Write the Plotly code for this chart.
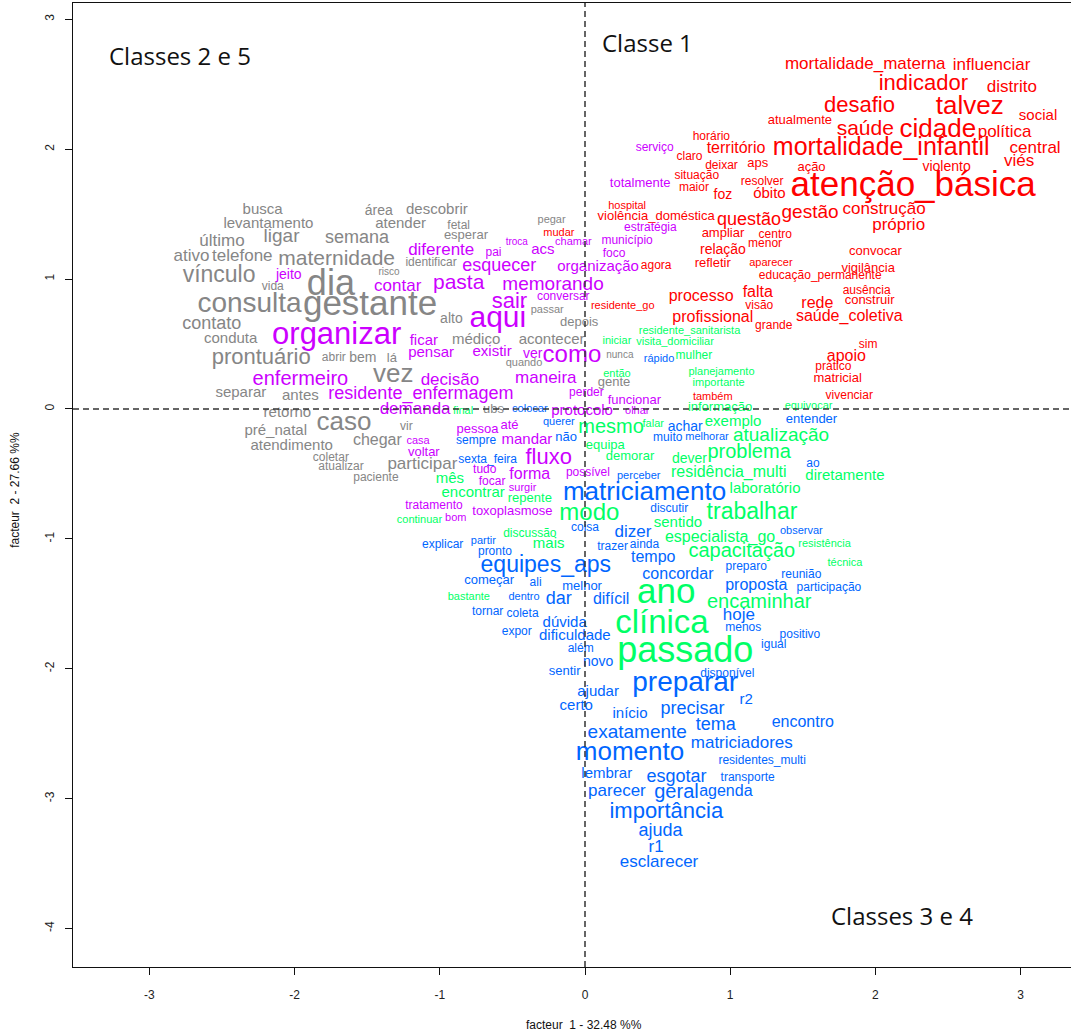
import plotly.graph_objects as go

# (word, facteur 1, facteur 2, weight)
class1 = [
    ("mortalidade_materna", 1.93, 2.65, 17), ("influenciar", 2.80, 2.64, 17),
    ("indicador", 2.33, 2.50, 22), ("distrito", 2.94, 2.47, 17),
    ("desafio", 1.89, 2.33, 22), ("talvez", 2.65, 2.32, 26),
    ("atualmente", 1.48, 2.22, 13), ("social", 3.12, 2.25, 15),
    ("saúde", 1.93, 2.15, 21), ("cidade", 2.43, 2.14, 26),
    ("política", 2.89, 2.13, 17), ("horário", 0.87, 2.09, 12),
    ("mortalidade_infantil", 2.04, 2.00, 25), ("central", 3.10, 2.00, 17),
    ("território", 1.04, 2.00, 16), ("claro", 0.72, 1.94, 12),
    ("viés", 2.99, 1.90, 17), ("aps", 1.19, 1.89, 13),
    ("deixar", 0.94, 1.87, 12), ("ação", 1.56, 1.86, 13),
    ("violento", 2.49, 1.86, 14), ("situação", 0.77, 1.79, 12),
    ("resolver", 1.22, 1.75, 12), ("maior", 0.75, 1.70, 12),
    ("atenção_básica", 2.26, 1.71, 35), ("foz", 0.95, 1.64, 14),
    ("óbito", 1.27, 1.65, 15), ("hospital", 0.29, 1.56, 11),
    ("violência_doméstica", 0.49, 1.48, 13), ("questão", 1.13, 1.45, 18),
    ("gestão", 1.55, 1.51, 19), ("construção", 2.06, 1.53, 17),
    ("próprio", 2.16, 1.41, 17), ("ampliar", 0.95, 1.35, 13),
    ("centro", 1.31, 1.34, 12), ("menor", 1.24, 1.27, 12),
    ("relação", 0.95, 1.22, 14), ("refletir", 0.88, 1.12, 13),
    ("aparecer", 1.28, 1.12, 11), ("convocar", 2.00, 1.21, 13),
    ("vigilância", 1.95, 1.08, 13), ("educação_permanente", 1.62, 1.02, 12),
    ("ausência", 1.94, 0.91, 12), ("construir", 1.96, 0.83, 13),
    ("processo", 0.80, 0.86, 16), ("falta", 1.19, 0.89, 16),
    ("visão", 1.20, 0.79, 12), ("rede", 1.60, 0.81, 16),
    ("saúde_coletiva", 1.82, 0.71, 16), ("residente_go", 0.26, 0.79, 11),
    ("profissional", 0.88, 0.70, 16), ("grande", 1.30, 0.64, 12),
    ("sim", 1.95, 0.49, 12), ("apoio", 1.80, 0.40, 16),
    ("prático", 1.71, 0.32, 12), ("matricial", 1.74, 0.23, 13),
    ("vivenciar", 1.82, 0.10, 12), ("também", 0.88, 0.09, 11),
    ("mudar", -0.18, 1.35, 11), ("agora", 0.49, 1.10, 12),
]

class2 = [
    ("busca", -2.22, 1.53, 15), ("área", -1.42, 1.52, 14),
    ("descobrir", -1.02, 1.53, 15), ("levantamento", -2.18, 1.42, 15),
    ("atender", -1.27, 1.42, 15), ("fetal", -0.87, 1.41, 12),
    ("esperar", -0.82, 1.33, 13), ("último", -2.50, 1.29, 17),
    ("ligar", -2.09, 1.32, 19), ("semana", -1.57, 1.31, 18),
    ("ativo", -2.71, 1.17, 17), ("telefone", -2.36, 1.17, 17),
    ("maternidade", -1.71, 1.15, 21), ("identificar", -1.06, 1.12, 12),
    ("risco", -1.35, 1.05, 10), ("vínculo", -2.52, 1.02, 23),
    ("dia", -1.75, 0.95, 36), ("vida", -2.15, 0.94, 12),
    ("consulta", -2.31, 0.80, 28), ("gestante", -1.48, 0.79, 35),
    ("contato", -2.57, 0.65, 18), ("conduta", -2.44, 0.54, 15),
    ("alto", -0.92, 0.69, 14), ("prontuário", -2.23, 0.39, 22),
    ("abrir", -1.73, 0.39, 12), ("bem", -1.53, 0.39, 14),
    ("lá", -1.33, 0.39, 13), ("médico", -0.75, 0.53, 15),
    ("acontecer", -0.23, 0.53, 15), ("quando", -0.42, 0.35, 11),
    ("vez", -1.32, 0.26, 26), ("separar", -2.37, 0.12, 15),
    ("antes", -1.96, 0.10, 15), ("gente", 0.20, 0.20, 13),
    ("nunca", 0.24, 0.41, 10), ("depois", -0.04, 0.66, 13),
    ("passar", -0.26, 0.76, 11), ("pegar", -0.23, 1.45, 11),
    ("retorno", -2.05, -0.03, 15), ("caso", -1.66, -0.11, 26),
    ("vir", -1.23, -0.14, 12), ("pré_natal", -2.13, -0.17, 15),
    ("atendimento", -2.02, -0.29, 15), ("chegar", -1.43, -0.25, 16),
    ("coletar", -1.75, -0.38, 12), ("atualizar", -1.68, -0.45, 12),
    ("participar", -1.12, -0.43, 17), ("paciente", -1.44, -0.53, 12),
    ("ubs", -0.63, -0.01, 13),
]

class3 = [
    ("residente_sanitarista", 0.72, 0.60, 11), ("iniciar", 0.22, 0.52, 11),
    ("visita_domiciliar", 0.62, 0.51, 11), ("mulher", 0.75, 0.41, 12),
    ("então", 0.22, 0.27, 11), ("planejamento", 0.94, 0.28, 11),
    ("importante", 0.92, 0.20, 11), ("informação", 0.93, 0.01, 13),
    ("equivocar", 1.54, 0.02, 11), ("final", -0.84, -0.02, 11),
    ("mesmo", 0.18, -0.15, 20), ("falar", 0.47, -0.12, 11),
    ("exemplo", 1.02, -0.10, 15), ("equipa", 0.14, -0.28, 13),
    ("atualização", 1.35, -0.21, 19), ("demorar", 0.31, -0.37, 13),
    ("dever", 0.72, -0.39, 14), ("problema", 1.13, -0.34, 20),
    ("residência_multi", 0.99, -0.49, 16), ("diretamente", 1.79, -0.52, 15),
    ("laboratório", 1.24, -0.62, 15), ("mês", -0.93, -0.54, 15),
    ("encontrar", -0.77, -0.65, 15), ("repente", -0.38, -0.69, 13),
    ("continuar", -1.14, -0.86, 11), ("modo", 0.03, -0.81, 24),
    ("trabalhar", 1.15, -0.80, 23), ("sentido", 0.64, -0.88, 15),
    ("especialista_go", 0.93, -0.99, 16), ("resistência", 1.65, -1.04, 11),
    ("capacitação", 1.08, -1.10, 20), ("técnica", 1.79, -1.19, 11),
    ("discussão", -0.38, -0.96, 12), ("mais", -0.25, -1.04, 15),
    ("bastante", -0.80, -1.45, 11), ("ano", 0.56, -1.43, 35),
    ("encaminhar", 1.20, -1.49, 20), ("clínica", 0.53, -1.66, 33),
    ("passado", 0.69, -1.88, 36),
]

class4 = [
    ("querer", -0.18, -0.10, 11), ("colocar", -0.38, 0.00, 11),
    ("sempre", -0.75, -0.25, 12), ("não", -0.13, -0.22, 13),
    ("sexta_feira", -0.67, -0.39, 12), ("muito", 0.57, -0.22, 12),
    ("melhorar", 0.84, -0.22, 11), ("achar", 0.69, -0.14, 14),
    ("entender", 1.56, -0.08, 13), ("ao", 1.57, -0.42, 12),
    ("perceber", 0.37, -0.52, 11), ("matriciamento", 0.41, -0.65, 26),
    ("discutir", 0.58, -0.77, 12), ("coisa", 0.00, -0.92, 12),
    ("dizer", 0.33, -0.95, 17), ("observar", 1.49, -0.94, 11),
    ("explicar", -0.98, -1.05, 12), ("partir", -0.70, -1.02, 11),
    ("pronto", -0.62, -1.10, 12), ("trazer", 0.19, -1.06, 12),
    ("ainda", 0.41, -1.05, 12), ("tempo", 0.47, -1.15, 16),
    ("preparo", 1.11, -1.22, 12), ("reunião", 1.49, -1.28, 12),
    ("participação", 1.68, -1.38, 12), ("equipes_aps", -0.27, -1.21, 23),
    ("concordar", 0.64, -1.28, 16), ("proposta", 1.18, -1.36, 16),
    ("começar", -0.66, -1.32, 13), ("ali", -0.34, -1.34, 12),
    ("melhor", -0.02, -1.37, 13), ("dentro", -0.42, -1.45, 11),
    ("dar", -0.18, -1.47, 18), ("difícil", 0.18, -1.47, 16),
    ("tornar", -0.67, -1.56, 12), ("coleta", -0.43, -1.58, 12),
    ("hoje", 1.06, -1.59, 17), ("dúvida", -0.14, -1.65, 15),
    ("expor", -0.47, -1.72, 12), ("dificuldade", -0.07, -1.75, 15),
    ("menos", 1.09, -1.69, 12), ("positivo", 1.48, -1.74, 12),
    ("igual", 1.30, -1.82, 12), ("além", -0.03, -1.85, 12),
    ("novo", 0.09, -1.95, 14), ("sentir", -0.14, -2.02, 13),
    ("disponível", 0.98, -2.04, 12), ("preparar", 0.69, -2.12, 28),
    ("ajudar", 0.09, -2.18, 15), ("r2", 1.11, -2.24, 15),
    ("certo", -0.06, -2.29, 15), ("início", 0.31, -2.35, 15),
    ("precisar", 0.74, -2.31, 18), ("tema", 0.90, -2.44, 18),
    ("encontro", 1.50, -2.42, 16), ("exatamente", 0.36, -2.50, 19),
    ("matriciadores", 1.08, -2.58, 17), ("momento", 0.31, -2.65, 26),
    ("residentes_multi", 1.22, -2.71, 12), ("lembrar", 0.15, -2.81, 15),
    ("esgotar", 0.63, -2.84, 18), ("transporte", 1.12, -2.84, 12),
    ("parecer", 0.22, -2.95, 17), ("geral", 0.63, -2.96, 20),
    ("agenda", 0.97, -2.95, 16), ("importância", 0.56, -3.11, 22),
    ("ajuda", 0.52, -3.25, 18), ("r1", 0.49, -3.38, 17),
    ("esclarecer", 0.51, -3.49, 17), ("rápido", 0.51, 0.38, 11),
]

class5 = [
    ("diferente", -0.99, 1.22, 17), ("pai", -0.63, 1.20, 12),
    ("troca", -0.47, 1.28, 10), ("acs", -0.29, 1.22, 15),
    ("chamar", -0.08, 1.28, 11), ("município", 0.29, 1.29, 12),
    ("estratégia", 0.45, 1.39, 12), ("foco", 0.20, 1.19, 12),
    ("organização", 0.09, 1.09, 15), ("jeito", -2.04, 1.03, 14),
    ("contar", -1.29, 0.94, 17), ("esquecer", -0.59, 1.10, 18),
    ("pasta", -0.87, 0.96, 21), ("memorando", -0.22, 0.95, 19),
    ("conversar", -0.15, 0.86, 12), ("sair", -0.52, 0.82, 22),
    ("organizar", -1.71, 0.56, 31), ("aqui", -0.60, 0.69, 30),
    ("ficar", -1.11, 0.52, 15), ("pensar", -1.06, 0.43, 15),
    ("existir", -0.64, 0.44, 15), ("ver", -0.36, 0.42, 14),
    ("como", -0.09, 0.41, 24), ("enfermeiro", -1.96, 0.22, 20),
    ("decisão", -0.93, 0.22, 17), ("maneira", -0.27, 0.23, 17),
    ("residente_enfermagem", -1.13, 0.11, 18), ("demanda", -1.17, -0.01, 17),
    ("pessoa", -0.74, -0.16, 13), ("até", -0.52, -0.13, 13),
    ("casa", -1.15, -0.25, 11), ("voltar", -1.11, -0.34, 13),
    ("mandar", -0.40, -0.24, 15), ("protocolo", -0.02, -0.02, 15),
    ("perder", 0.01, 0.12, 12), ("funcionar", 0.34, 0.06, 13),
    ("olhar", 0.36, -0.02, 11), ("fluxo", -0.25, -0.38, 22),
    ("possível", 0.02, -0.49, 12), ("tudo", -0.69, -0.47, 12),
    ("forma", -0.38, -0.51, 16), ("focar", -0.64, -0.56, 12),
    ("surgir", -0.43, -0.61, 11), ("tratamento", -1.04, -0.75, 12),
    ("toxoplasmose", -0.50, -0.79, 13), ("bom", -0.89, -0.84, 11),
    ("serviço", 0.48, 2.01, 12), ("totalmente", 0.38, 1.73, 13),
]

class_colors = ["#FF0000", "#868686", "#00FF66", "#0066FF", "#CC00FF"]
class_rows = [class1, class2, class3, class4, class5]

x_ticks = [-3, -2, -1, 0, 1, 2, 3]
y_ticks = [-4, -3, -2, -1, 0, 1, 2, 3]
x_title = "facteur  1 - 32.48 %%"
y_title = "facteur  2 - 27.66 %%"
zone_labels = [("Classes 2 e 5", -2.79, 2.72), ("Classe 1", 0.43, 2.82),
               ("Classes 3 e 4", 2.18, -3.90)]

FONT = "Liberation Sans, Arial, sans-serif"

fig = go.Figure()
for rows, col in zip(class_rows, class_colors):
    fig.add_trace(go.Scatter(
        x=[r[1] for r in rows], y=[r[2] for r in rows],
        text=[r[0] for r in rows], mode="text",
        textposition="middle center",
        textfont=dict(family=FONT, size=[r[3] for r in rows], color=col),
        hoverinfo="text", showlegend=False, cliponaxis=False,
    ))

for txt, lx, ly in zone_labels:
    fig.add_annotation(x=lx, y=ly, xref="x", yref="y", text=txt, showarrow=False,
                       font=dict(family="Open Sans, Noto Sans, sans-serif", size=24, color="#111111"))

fig.add_shape(type="line", xref="x", yref="paper", x0=0, x1=0, y0=0, y1=1,
              line=dict(color="#333333", width=1.5, dash="6px,4px"), layer="above")
fig.add_shape(type="line", xref="paper", yref="y", x0=0, x1=1, y0=0, y1=0,
              line=dict(color="#333333", width=1.5, dash="6px,4px"), layer="above")

fig.add_annotation(xref="paper", yref="paper", x=0.512, y=0, yshift=-58, yanchor="middle",
                   text=x_title, showarrow=False, font=dict(family=FONT, size=12, color="#111111"))
fig.add_annotation(xref="paper", yref="paper", x=0, xshift=-58, y=0.495, xanchor="center",
                   textangle=-90, text=y_title, showarrow=False,
                   font=dict(family=FONT, size=12, color="#111111"))

fig.update_layout(
    width=1071, height=1033,
    margin=dict(l=73, r=0, t=3, b=66),
    paper_bgcolor="white", plot_bgcolor="white",
    xaxis=dict(range=[-3.526, 3.347], tickvals=x_ticks, ticktext=[str(v) for v in x_ticks],
               ticks="outside", ticklen=7, tickcolor="#111", showline=True, linecolor="#111",
               linewidth=1, mirror=True, showgrid=False, zeroline=False,
               tickfont=dict(family=FONT, size=12, color="#222"), ticklabelstandoff=10),
    yaxis=dict(range=[-4.296, 3.125], tickvals=y_ticks, ticktext=[str(v) for v in y_ticks],
               ticks="outside", ticklen=7, tickcolor="#111", showline=True, linecolor="#111",
               linewidth=1, mirror=False, showgrid=False, zeroline=False, tickangle=-90,
               tickfont=dict(family=FONT, size=12, color="#222"), ticklabelstandoff=6),
)

fig.write_html("out.html", config={"displayModeBar": False})

# remove the browser's default page margin so the figure sits at the top-left corner
with open("out.html", "r", encoding="utf-8") as fh:
    html = fh.read()
html = html.replace("<head>", "<head><style>html,body{margin:0;padding:0;overflow:hidden;}</style>", 1)
with open("out.html", "w", encoding="utf-8") as fh:
    fh.write(html)
